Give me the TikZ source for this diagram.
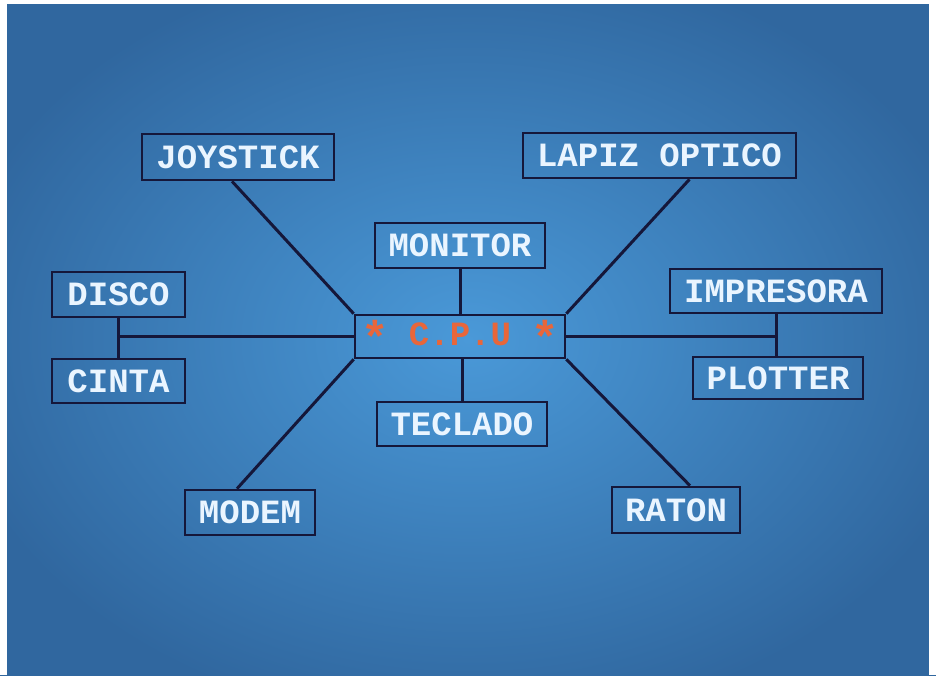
\documentclass[tikz,border=0pt]{standalone}
\usepackage{graphicx}
\usepackage{fontspec}
\newfontfamily\pixfont{Liberation Mono}[BoldFont={* Bold}]
\definecolor{bgc}{HTML}{4A99D8}
\definecolor{bge}{HTML}{30679F}
\definecolor{edge}{HTML}{15173A}
\definecolor{txt}{HTML}{EAF5FF}
\definecolor{cpuc}{HTML}{E8663A}
\tikzset{
  dev/.style={draw=edge, line width=2.6pt, fill=none, inner sep=0pt,
    font=\pixfont\bfseries\fontsize{34}{34}\selectfont, text=txt},
  wire/.style={draw=edge, line width=3pt}
}
\newcommand{\bigast}{\raisebox{-0.22em}{\scalebox{1.35}{*}}}
\begin{document}
\begin{tikzpicture}[x=1pt,y=-1pt]
\useasboundingbox (0,0) rectangle (936,675);
\fill[white] (0,0) rectangle (936,675);
\fill[bge] (7,4) rectangle (929,675);
\shade[inner color=bgc, outer color=bge] (-60,-50) rectangle (996,729);
\fill[white] (0,0) rectangle (936,4);
\fill[white] (0,0) rectangle (7,675);
\fill[white] (929,0) rectangle (936,675);
% nodes
\node[dev, minimum width=192pt, minimum height=46pt] (joy) at (238,157) {JOYSTICK};
\node[dev, minimum width=273pt, minimum height=45pt] (lap) at (659.5,155.5) {LAPIZ OPTICO};
\node[dev, minimum width=170pt, minimum height=45pt] (mon) at (460,245.5) {MONITOR};
\node[dev, minimum width=133pt, minimum height=45pt] (dis) at (118.5,294.5) {DISCO};
\node[dev, minimum width=133pt, minimum height=44pt] (cin) at (118.5,381) {CINTA};
\node[dev, minimum width=210pt, minimum height=43pt, text=cpuc] (cpu) at (460,336.5) {\bigast{} C.P.U \bigast};
\node[dev, minimum width=212pt, minimum height=44pt] (imp) at (776,291) {IMPRESORA};
\node[dev, minimum width=170pt, minimum height=42pt] (plo) at (778,378) {PLOTTER};
\node[dev, minimum width=170pt, minimum height=44pt] (tec) at (462,424) {TECLADO};
\node[dev, minimum width=130pt, minimum height=45pt] (mod) at (250,512.5) {MODEM};
\node[dev, minimum width=128pt, minimum height=46pt] (rat) at (676,510) {RATON};
% connectors
\draw[wire] ([xshift=-6pt]joy.south) -- (cpu.north west);
\draw[wire] ([xshift=30pt]lap.south) -- (cpu.north east);
\draw[wire] ([xshift=-13pt]mod.north) -- (cpu.south west);
\draw[wire] ([xshift=14pt]rat.north) -- (cpu.south east);
\draw[wire] (mon.south) -- (mon.south |- cpu.north);
\draw[wire] (tec.north) -- (tec.north |- cpu.south);
\draw[wire] (dis.south) -- (cin.north);
\coordinate (lj) at (dis.south |- cpu.west);
\draw[wire] (cpu.west) -- (lj);
\draw[wire] (imp.south) -- (imp.south |- plo.north);
\coordinate (rj) at (imp.south |- cpu.east);
\draw[wire] (cpu.east) -- (rj);
\end{tikzpicture}
\end{document}
